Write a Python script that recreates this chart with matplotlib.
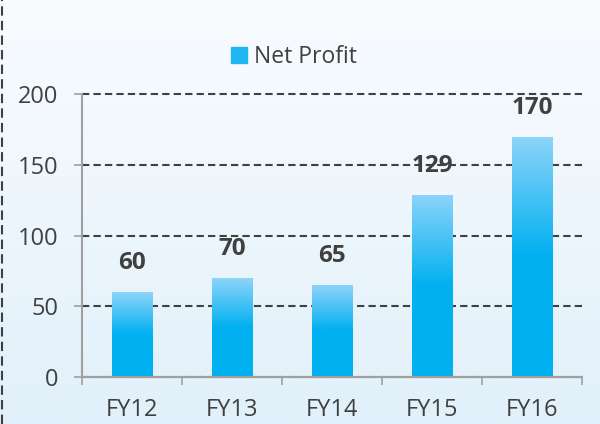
import numpy as np
import matplotlib
matplotlib.use('Agg')
import matplotlib.pyplot as plt
from matplotlib.colors import LinearSegmentedColormap
from matplotlib.lines import Line2D
from matplotlib.patches import Patch

# 数据
years = ['FY12', 'FY13', 'FY14', 'FY15', 'FY16']
net_profit = [60, 70, 65, 129, 170]

plt.rcParams['font.family'] = ['Open Sans', 'DejaVu Sans']
text_color = '#404040'

fig = plt.figure(figsize=(6, 4.24), dpi=100)

# 背景渐变
bg = fig.add_axes([0, 0, 1, 1], zorder=-10)
bg_cmap = LinearSegmentedColormap.from_list('bg', ['#F9FCFF', '#E1F0FA'])
bg.imshow(np.linspace(0, 1, 256).reshape(-1, 1), cmap=bg_cmap, aspect='auto',
          extent=[0, 1, 0, 1])
bg.axis('off')
fig.add_artist(Line2D([0.003, 0.003], [0, 1], color='#404040', lw=1.5,
                      ls=(0, (4.5, 2.5)), transform=fig.transFigure))

ax = fig.add_axes([0.137, 0.111, 0.833, 0.667])
ax.patch.set_alpha(0)

x = np.arange(len(years))
bars = ax.bar(x, net_profit, width=0.41, color='none', zorder=3)

# 柱子渐变：上半部分浅蓝 -> 下半部分纯蓝
bar_cmap = LinearSegmentedColormap.from_list(
    'bar', [(0, '#00B0F0'), (0.5, '#00B0F0'), (1, '#8DD4FA')])
grad = np.linspace(0, 1, 256).reshape(-1, 1)
for b in bars:
    x0, y0 = b.get_x(), b.get_y()
    w, h = b.get_width(), b.get_height()
    im = ax.imshow(grad, cmap=bar_cmap, aspect='auto', origin='lower',
                   extent=[x0, x0 + w, y0, y0 + h], zorder=3)
    im.set_clip_path(b)

for xi, v in zip(x, net_profit):
    ax.annotate(str(v), (xi, v), xytext=(0, 12), textcoords='offset points',
                ha='center', va='bottom', fontsize=17.5, fontweight='bold',
                color=text_color)

ax.set_xlim(-0.5, len(years) - 0.5)
ax.set_ylim(0, 200)
ax.set_yticks([0, 50, 100, 150, 200])
ax.set_xticks(x)
ax.set_xticklabels(years)
ax.set_xticks(np.arange(-0.5, len(years)), minor=True)
ax.tick_params(axis='x', which='major', length=0, pad=15, labelsize=17,
               labelcolor=text_color)
ax.tick_params(axis='x', which='minor', length=6, width=1.2, color='#A0A0A0',
               direction='out')
ax.tick_params(axis='y', length=6, width=1.2, color='#A0A0A0', pad=11,
               labelsize=17, labelcolor=text_color)

ax.grid(axis='y', color='#404040', ls=(0, (3.5, 2)), lw=1.5, zorder=1)
for gl in ax.get_ygridlines():
    gl.set_clip_on(False)
ax.set_axisbelow(True)
for s in ['top', 'right']:
    ax.spines[s].set_visible(False)
for s in ['left', 'bottom']:
    ax.spines[s].set_color('#A0A0A0')
    ax.spines[s].set_linewidth(1.5)
    ax.spines[s].set_zorder(4)

fig.legend(handles=[Patch(color='#1FB6F2', label='Net Profit')],
           loc='center', bbox_to_anchor=(0.49, 0.865), frameon=False,
           fontsize=16.5, handlelength=0.7, handleheight=0.7, handletextpad=0.3,
           labelcolor=text_color)

plt.savefig('out.png', dpi=100)
